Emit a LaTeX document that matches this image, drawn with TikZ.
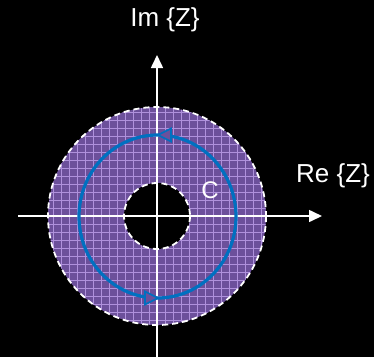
\documentclass[tikz,border=0pt]{standalone}
\usepackage{fontspec}
\setmainfont{Liberation Sans}
\usetikzlibrary{arrows.meta}
\definecolor{ringpurple}{RGB}{108,80,155}
\definecolor{gridlilac}{RGB}{175,145,220}
\definecolor{pathblue}{RGB}{0,112,192}

\begin{document}
\begin{tikzpicture}[x=1pt,y=-1pt,
  axis/.style={white,line width=1.6pt,-{Triangle[length=13pt,width=12pt]}},
  rim/.style={white,line width=1.8pt,dash pattern=on 6pt off 4pt},
  dirmark/.style={pathblue,line width=1.6pt,fill=ringpurple,line join=miter},
  lab/.style={text=white,font=\fontsize{26}{30}\selectfont,inner sep=0pt}]
  \fill[black] (0,0) rectangle (374,357);
  \useasboundingbox (0,0) rectangle (374,357);
  \coordinate (o) at (157,216);

  % region of convergence
  \fill[ringpurple] (o) circle (109);
  \begin{scope}
    \clip (o) circle (109);
    \foreach \k in {-14,...,14}{
      \draw[gridlilac,line width=0.8pt] (157+8*\k,100) -- (157+8*\k,332);
      \draw[gridlilac,line width=0.8pt] (40,216+8*\k) -- (274,216+8*\k);
    }
  \end{scope}
  \fill[black] (o) circle (33);
  \draw[rim] (o) circle (109);
  \draw[rim] (o) circle (33);

  % axes
  \coordinate (xs) at (18,216);
  \coordinate (xe) at (322,216);
  \coordinate (ys) at (157,357);
  \coordinate (ye) at (157,55);
  \draw[axis] (xs) -- (xe);
  \draw[axis] (ys) -- (ye);

  % contour
  \draw[pathblue,line width=3.2pt] (157.5,216.5) ellipse (78.5 and 81.5);
  \draw[dirmark] (158,135) -- (171,128.5) -- (171,141.5) -- cycle;
  \draw[dirmark] (158,298) -- (145,291.5) -- (145,304.5) -- cycle;

  \node[lab] (im) at (165,20) {Im \{Z\}};
  \node[lab] (re) at (333,176) {Re \{Z\}};
  \node[lab,font=\fontsize{24}{28}\selectfont] (c) at (210,190) {C};
\end{tikzpicture}
\end{document}
